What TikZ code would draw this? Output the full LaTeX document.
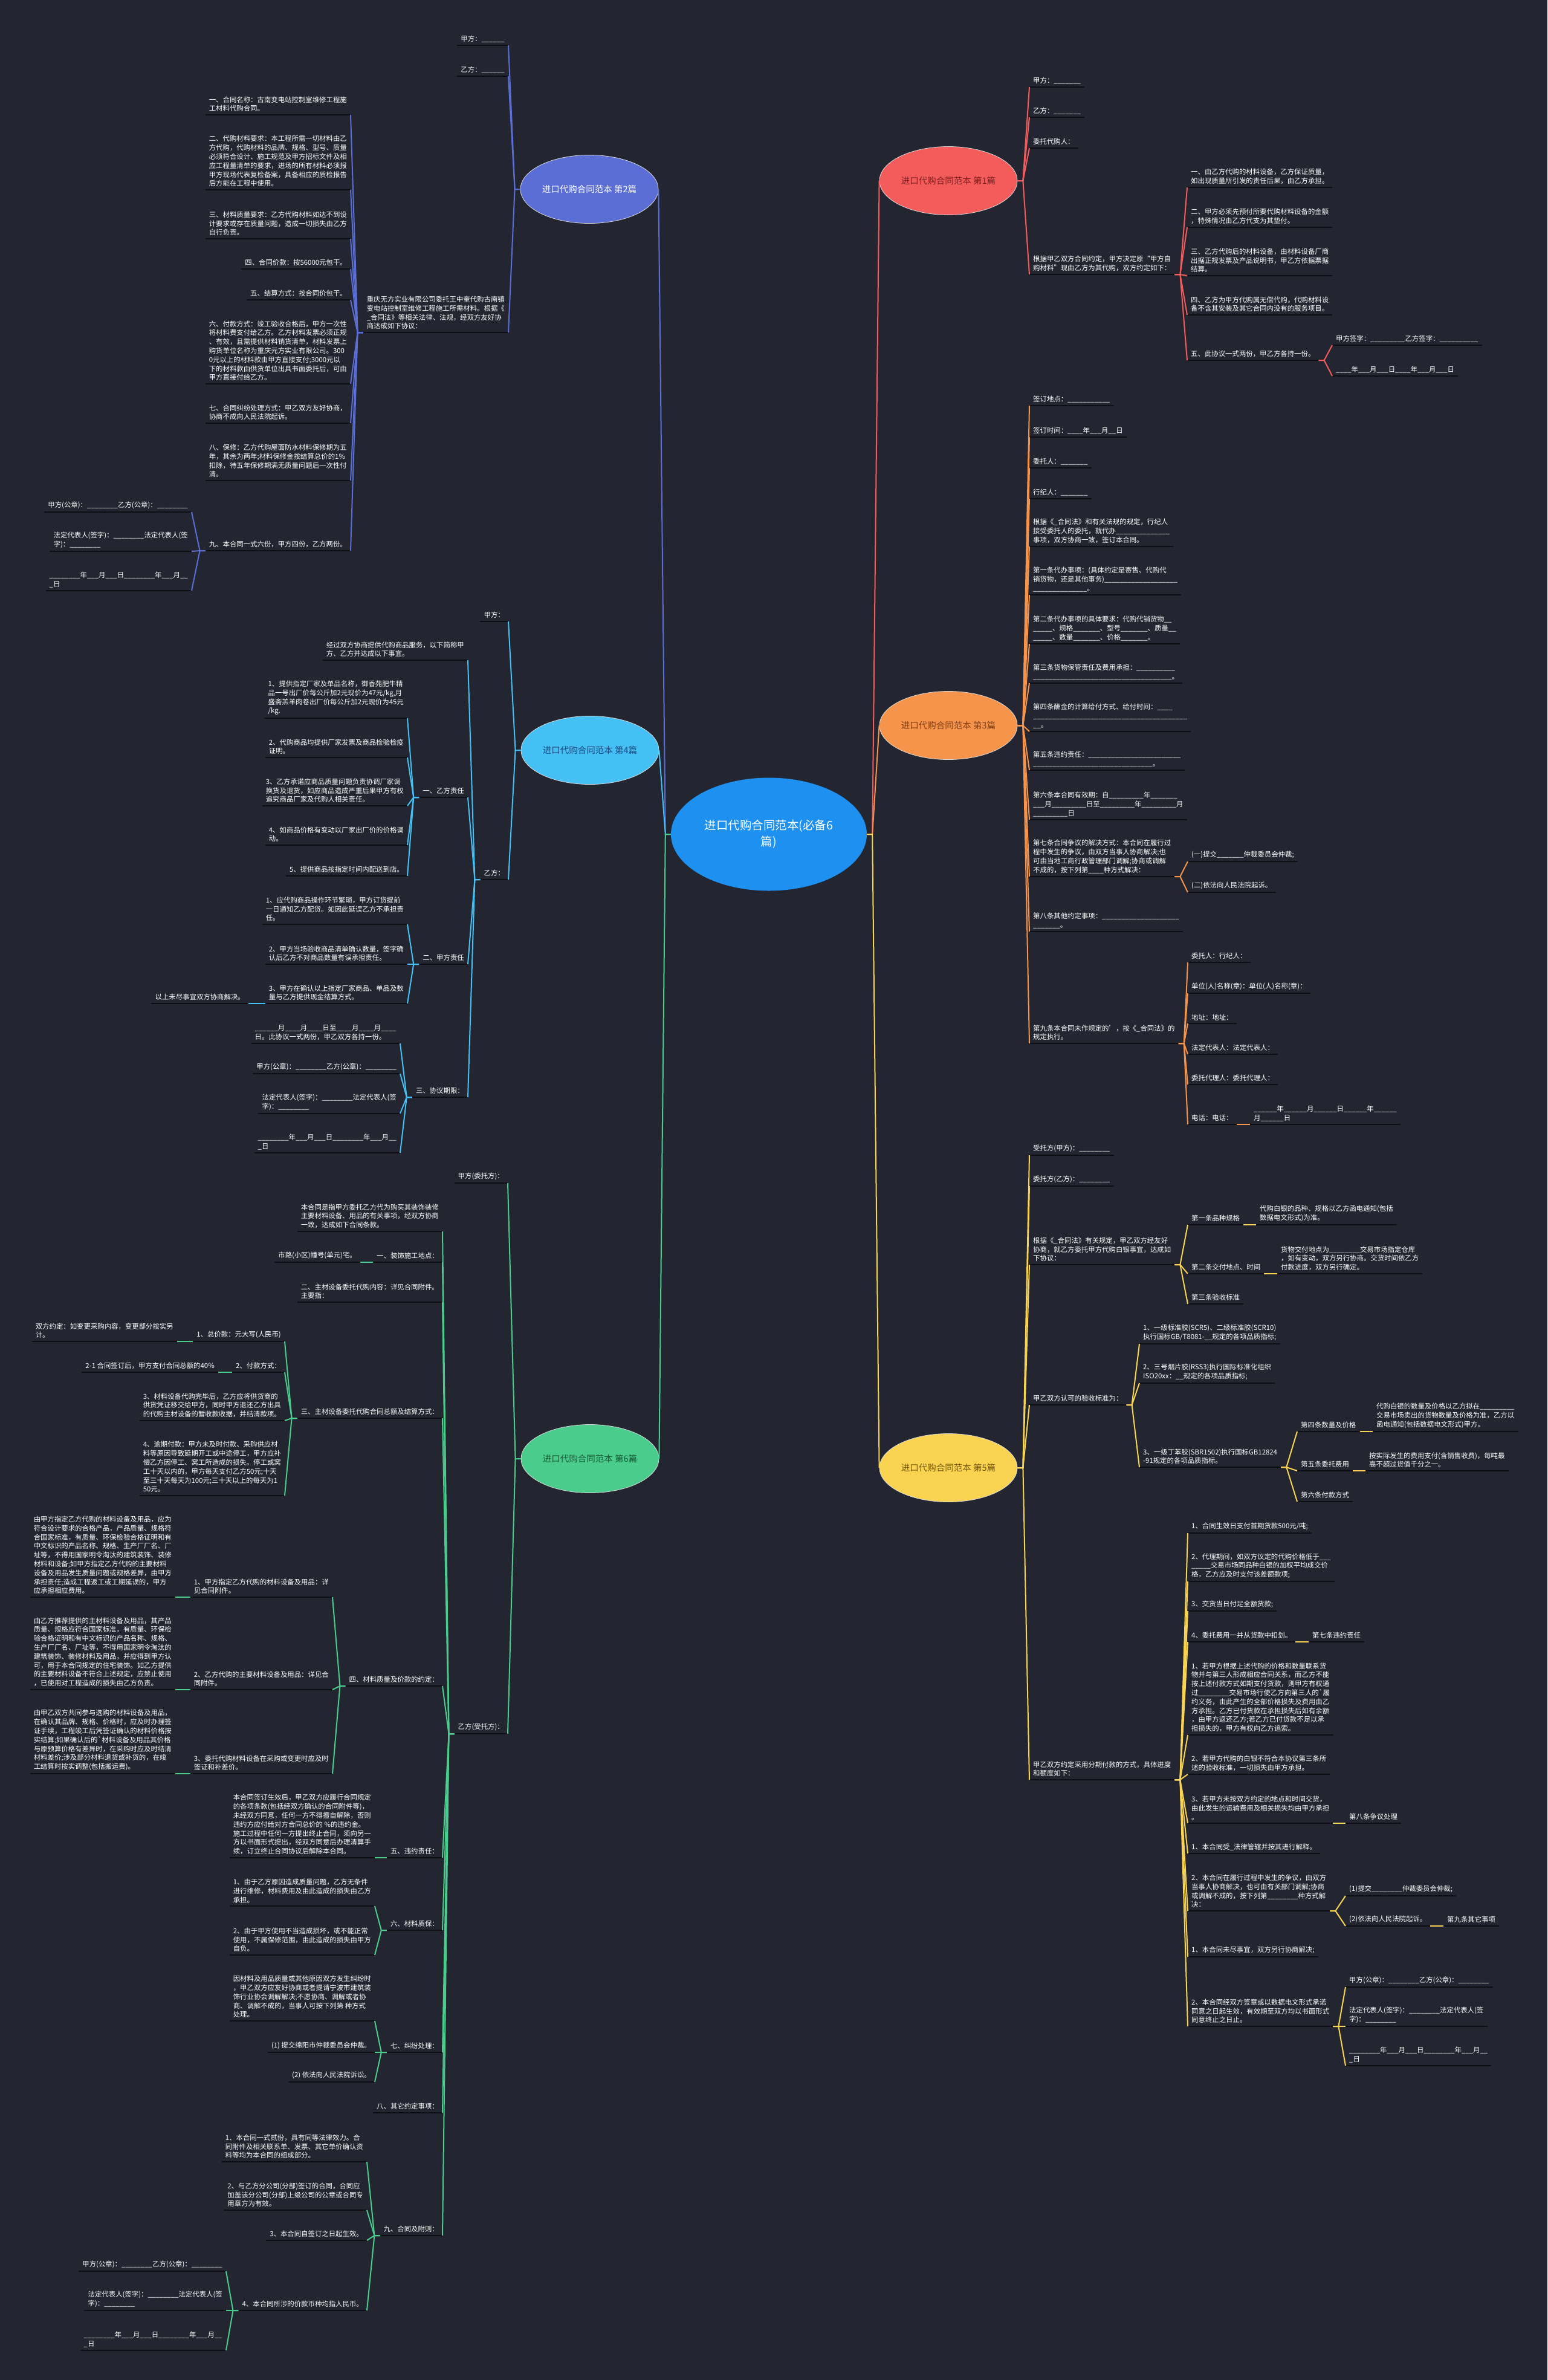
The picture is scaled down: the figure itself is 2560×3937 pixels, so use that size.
\documentclass[tikz,border=0pt]{standalone}
\usepackage{fontspec}
\setmainfont{Noto Sans CJK SC}
\usepackage{tikz}
\usetikzlibrary{shapes.geometric}

\definecolor{bgc}{RGB}{35,38,49}
\definecolor{ulc}{RGB}{13,15,21}
\definecolor{rootc}{RGB}{30,144,240}
\definecolor{cA}{RGB}{244,92,92}
\definecolor{cB}{RGB}{90,110,214}
\definecolor{cC}{RGB}{247,148,76}
\definecolor{cD}{RGB}{68,192,245}
\definecolor{cE}{RGB}{250,212,80}
\definecolor{cF}{RGB}{74,204,140}
\definecolor{tA}{RGB}{125,32,32}
\definecolor{tC}{RGB}{125,62,20}
\definecolor{tD}{RGB}{25,72,125}
\definecolor{tE}{RGB}{115,88,20}
\definecolor{tF}{RGB}{25,92,56}
\newcommand\leaffont{\fontsize{11.4}{14.8}\selectfont}

\begin{document}
\catcode`\_=12
\begin{tikzpicture}[x=1pt,y=-1pt,
  uline/.style={draw=ulc, line width=2.5pt},
  leaf/.style={text=white, font=\leaffont, align=left, inner xsep=6pt, inner ysep=5pt,
    append after command={\pgfextra{\draw[uline] (\tikzlastnode.south west) -- (\tikzlastnode.south east);}}},
  rleaf/.style={leaf, anchor=south west},
  lleaf/.style={leaf, anchor=south east},
  topic/.style={ellipse, draw=white!85!black, line width=0.8pt, minimum width=228pt,
    minimum height=113pt, inner sep=0pt, font=\fontsize{14.5}{18}\selectfont},
  linkr/.style={line width=2pt, to path={-- ++(9,0) -- (\tikztotarget)}},
  linkl/.style={line width=2pt, to path={-- ++(-9,0) -- (\tikztotarget)}},
]

\fill[bgc] (0,0) rectangle (2560,3937);

% centre and the six topics
\node[ellipse, fill=rootc, text=white, minimum width=324pt, minimum height=187pt, align=center,
  font=\fontsize{19.5}{27}\selectfont] (root) at (1272,1380) {进口代购合同范本(必备6\\篇)};
\node[topic, fill=cA, text=tA] (b1) at (1569,299) {进口代购合同范本 第1篇};
\node[topic, fill=cB, text=white] (b2) at (975,313) {进口代购合同范本 第2篇};
\node[topic, fill=cC, text=tC] (b3) at (1569,1200) {进口代购合同范本 第3篇};
\node[topic, fill=cD, text=tD] (b4) at (976,1241) {进口代购合同范本 第4篇};
\node[topic, fill=cE, text=tE] (b5) at (1569,2428) {进口代购合同范本 第5篇};
\node[topic, fill=cF, text=tF] (b6) at (976,2413) {进口代购合同范本 第6篇};

% 第1篇
\node[rleaf] (b1a) at (1703,144) {甲方：_______};
\node[rleaf] (b1b) at (1703,194) {乙方：_______};
\node[rleaf] (b1c) at (1703,245) {委托代购人：};
\node[rleaf] (b1d) at (1703,454) {根据甲乙双方合同约定，甲方决定原“甲方自\\购材料”现由乙方为其代购，双方约定如下：};
\node[rleaf] (b1d1) at (1964,310) {一、由乙方代购的材料设备，乙方保证质量，\\如出现质量所引发的责任后果，由乙方承担。};
\node[rleaf] (b1d2) at (1964,376) {二、甲方必须先预付所要代购材料设备的金额\\，特殊情况由乙方代支为其垫付。};
\node[rleaf] (b1d3) at (1964,456) {三、乙方代购后的材料设备，由材料设备厂商\\出据正规发票及产品说明书，甲乙方依据票据\\结算。};
\node[rleaf] (b1d4) at (1964,521) {四、乙方为甲方代购属无偿代购，代购材料设\\备不含其安装及其它合同内没有的服务项目。};
\node[rleaf] (b1d5) at (1964,596) {五、此协议一式两份，甲乙方各持一份。};
\node[rleaf] (b1d5a) at (2204,571) {甲方签字：_________乙方签字：__________};
\node[rleaf] (b1d5b) at (2204,622) {____年___月___日____年___月___日};

% 第3篇
\node[rleaf] (b3a) at (1703,671) {签订地点：___________};
\node[rleaf] (b3b) at (1703,723) {签订时间：____年___月__日};
\node[rleaf] (b3c) at (1703,774) {委托人：_______};
\node[rleaf] (b3d) at (1703,825) {行纪人：_______};
\node[rleaf] (b3e) at (1703,904) {根据《_合同法》和有关法规的规定，行纪人\\接受委托人的委托，就代办______________\\事项，双方协商一致，签订本合同。};
\node[rleaf] (b3f) at (1703,984) {第一条代办事项：(具体约定是寄售、代购代\\销货物，还是其他事务)___________________\\______________。};
\node[rleaf] (b3g) at (1703,1065) {第二条代办事项的具体要求：代购代销货物__\\_____、规格_______、型号_______、质量__\\_____、数量_______、价格_______。};
\node[rleaf] (b3h) at (1703,1130) {第三条货物保管责任及费用承担：__________\\____________________________________。};
\node[rleaf] (b3i) at (1703,1210) {第四条酬金的计算给付方式、给付时间：____\\________________________________________\\__。};
\node[rleaf] (b3j) at (1703,1274) {第五条违约责任：________________________\\_______________________________。};
\node[rleaf] (b3k) at (1703,1356) {第六条本合同有效期：自_________年_______\\___月_________日至_________年_________月\\_________日};
\node[rleaf] (b3l) at (1703,1450) {第七条合同争议的解决方式：本合同在履行过\\程中发生的争议，由双方当事人协商解决;也\\可由当地工商行政管理部门调解;协商或调解\\不成的，按下列第____种方式解决：};
\node[rleaf] (b3l1) at (1965,1425) {(一)提交_______仲裁委员会仲裁;};
\node[rleaf] (b3l2) at (1965,1476) {(二)依法向人民法院起诉。};
\node[rleaf] (b3m) at (1703,1541) {第八条其他约定事项：____________________\\_______。};
\node[rleaf] (b3n) at (1703,1726) {第九条本合同未作规定的'，按《_合同法》的\\规定执行。};
\node[rleaf] (b3n1) at (1965,1592) {委托人：行纪人：};
\node[rleaf] (b3n2) at (1965,1643) {单位(人)名称(章)：单位(人)名称(章)：};
\node[rleaf] (b3n3) at (1965,1693) {地址：地址：};
\node[rleaf] (b3n4) at (1965,1744) {法定代表人：法定代表人：};
\node[rleaf] (b3n5) at (1965,1794) {委托代理人：委托代理人：};
\node[rleaf] (b3n6) at (1965,1860) {电话：电话：};
\node[rleaf] (b3n6a) at (2068,1860) {______年______月______日______年______\\月______日};

% 第5篇
\node[rleaf] (b5a) at (1703,1911) {受托方(甲方)：________};
\node[rleaf] (b5b) at (1703,1962) {委托方(乙方)：________};
\node[rleaf] (b5c) at (1703,2092) {根据《_合同法》有关规定，甲乙双方经友好\\协商，就乙方委托甲方代购白银事宜，达成如\\下协议：};
\node[rleaf] (b5c1) at (1965,2026) {第一条品种规格};
\node[rleaf] (b5c1a) at (2078,2026) {代购白银的品种、规格以乙方函电通知(包括\\数据电文形式)为准。};
\node[rleaf] (b5c2) at (1965,2107) {第二条交付地点、时间};
\node[rleaf] (b5c2a) at (2113,2107) {货物交付地点为________交易市场指定仓库\\，如有变动，双方另行协商。交货时间依乙方\\付款进度，双方另行确定。};
\node[rleaf] (b5c3) at (1965,2157) {第三条验收标准};
\node[rleaf] (b5d) at (1703,2324) {甲乙双方认可的验收标准为：};
\node[rleaf] (b5d1) at (1885,2223) {1、一级标准胶(SCR5)、二级标准胶(SCR10)\\执行国标GB/T8081-__规定的各项品质指标;};
\node[rleaf] (b5d2) at (1885,2288) {2、三号烟片胶(RSS3)执行国际标准化组织\\ISO20xx：__规定的各项品质指标;};
\node[rleaf] (b5d3) at (1885,2427) {3、一级丁苯胶(SBR1502)执行国标GB12824\\-91规定的各项品质指标。};
\node[rleaf] (b5d3a) at (2146,2368) {第四条数量及价格};
\node[rleaf] (b5d3a1) at (2271,2368) {代购白银的数量及价格以乙方拟在_________\\交易市场卖出的货物数量及价格为准，乙方以\\函电通知(包括数据电文形式)甲方。};
\node[rleaf] (b5d3b) at (2146,2433) {第五条委托费用};
\node[rleaf] (b5d3b1) at (2259,2433) {按实际发生的费用支付(含销售收费)，每吨最\\高不超过货值千分之一。};
\node[rleaf] (b5d3c) at (2146,2484) {第六条付款方式};
\node[rleaf] (b5e) at (1703,2944) {甲乙双方约定采用分期付款的方式，具体进度\\和额度如下：};
\node[rleaf] (b5e1) at (1965,2536) {1、合同生效日支付首期货款500元/吨;};
\node[rleaf] (b5e2) at (1965,2616) {2、代理期间，如双方议定的代购价格低于___\\_____交易市场同品种白银的加权平均成交价\\格，乙方应及时支付该差额款项;};
\node[rleaf] (b5e3) at (1965,2665) {3、交货当日付足全额货款;};
\node[rleaf] (b5e4) at (1965,2716) {4、委托费用一并从货款中扣划。};
\node[rleaf] (b5e4a) at (2165,2716) {第七条违约责任};
\node[rleaf] (b5e5) at (1965,2870) {1、若甲方根据上述代购的价格和数量联系货\\物并与第三人形成相应合同关系，而乙方不能\\按上述付款方式如期支付货款，则甲方有权通\\过________交易市场行使乙方向第三人的\textasciigrave 履\\约义务，由此产生的全部价格损失及费用由乙\\方承担。乙方已付货款在承担损失后如有余额\\，由甲方返还乙方;若乙方已付货款不足以承\\担损失的，甲方有权向乙方追索。};
\node[rleaf] (b5e6) at (1965,2935) {2、若甲方代购的白银不符合本协议第三条所\\述的验收标准，一切损失由甲方承担。};
\node[rleaf] (b5e7) at (1965,3016) {3、若甲方未按双方约定的地点和时间交货，\\由此发生的运输费用及相关损失均由甲方承担\\。};
\node[rleaf] (b5e7a) at (2226,3016) {第八条争议处理};
\node[rleaf] (b5e8) at (1965,3066) {1、本合同受_法律管辖并按其进行解释。};
\node[rleaf] (b5e9) at (1965,3161) {2、本合同在履行过程中发生的争议，由双方\\当事人协商解决，也可由有关部门调解;协商\\或调解不成的，按下列第________种方式解\\决：};
\node[rleaf] (b5e9a) at (2226,3136) {(1)提交________仲裁委员会仲裁;};
\node[rleaf] (b5e9b) at (2226,3186) {(2)依法向人民法院起诉。};
\node[rleaf] (b5e9b1) at (2388,3186) {第九条其它事项};
\node[rleaf] (b5e10) at (1965,3237) {1、本合同未尽事宜，双方另行协商解决;};
\node[rleaf] (b5e11) at (1965,3352) {2、本合同经双方签章或以数据电文形式承诺\\同意之日起生效，有效期至双方均以书面形式\\同意终止之日止。};
\node[rleaf] (b5e11a) at (2226,3287) {甲方(公章)：________乙方(公章)：________};
\node[rleaf] (b5e11b) at (2226,3352) {法定代表人(签字)：________法定代表人(签\\字)：________};
\node[rleaf] (b5e11c) at (2226,3417) {________年___月___日________年___月__\\_日};

% 第2篇
\node[lleaf] (b2a) at (841,75) {甲方：______};
\node[lleaf] (b2b) at (841,126) {乙方：______};
\node[lleaf] (b2c) at (841,550) {重庆无方实业有限公司委托王中奎代购古南镇\\变电站控制室维修工程施工所需材料。根据《\\_合同法》等相关法律、法规，经双方友好协\\商达成如下协议：};
\node[lleaf] (b2c1) at (580,190) {一、合同名称：古南变电站控制室维修工程施\\工材料代购合同。};
\node[lleaf] (b2c2) at (580,314) {二、代购材料要求：本工程所需一切材料由乙\\方代购，代购材料的品牌、规格、型号、质量\\必须符合设计、施工规范及甲方招标文件及相\\应工程量清单的要求，进场的所有材料必须报\\甲方现场代表复检备案，具备相应的质检报告\\后方能在工程中使用。};
\node[lleaf] (b2c3) at (580,395) {三、材料质量要求：乙方代购材料如达不到设\\计要求或存在质量问题，造成一切损失由乙方\\自行负责。};
\node[lleaf] (b2c4) at (580,445) {四、合同价款：按56000元包干。};
\node[lleaf] (b2c5) at (580,496) {五、结算方式：按合同价包干。};
\node[lleaf] (b2c6) at (580,635) {六、付款方式：竣工验收合格后，甲方一次性\\将材料费支付给乙方。乙方材料发票必须正规\\、有效，且需提供材料销货清单，材料发票上\\购货单位名称为重庆元方实业有限公司。300\\0元以上的材料款由甲方直接支付;3000元以\\下的材料款由供货单位出具书面委托后，可由\\甲方直接付给乙方。};
\node[lleaf] (b2c7) at (580,700) {七、合同纠纷处理方式：甲乙双方友好协商，\\协商不成向人民法院起诉。};
\node[lleaf] (b2c8) at (580,795) {八、保修：乙方代购屋面防水材料保修期为五\\年，其余为两年;材料保修金按结算总价的1\%\\扣除，待五年保修期满无质量问题后一次性付\\清。};
\node[lleaf] (b2c9) at (580,911) {九、本合同一式六份，甲方四份，乙方两份。};
\node[lleaf] (b2c9a) at (317,847) {甲方(公章)：________乙方(公章)：________};
\node[lleaf] (b2c9b) at (317,912) {法定代表人(签字)：________法定代表人(签\\字)：________};
\node[lleaf] (b2c9c) at (317,977) {________年___月___日________年___月__\\_日};

% 第4篇
\node[lleaf] (b4a) at (841,1028) {甲方：};
\node[lleaf] (b4b) at (841,1455) {乙方：};
\node[lleaf] (b4b1) at (774,1092) {经过双方协商提供代购商品服务，以下简称甲\\方、乙方并达成以下事宜。};
\node[lleaf] (b4b2) at (774,1319) {一、乙方责任};
\node[lleaf] (b4b2a) at (674,1188) {1、提供指定厂家及单品名称，御香苑肥牛精\\品一号出厂价每公斤加2元现价为47元/kg,月\\盛斋羔羊肉卷出厂价每公斤加2元现价为45元\\/kg.};
\node[lleaf] (b4b2b) at (674,1253) {2、代购商品均提供厂家发票及商品检验检疫\\证明。};
\node[lleaf] (b4b2c) at (674,1333) {3、乙方承诺应商品质量问题负责协调厂家调\\换货及退货，如应商品造成严重后果甲方有权\\追究商品厂家及代购人相关责任。};
\node[lleaf] (b4b2d) at (674,1398) {4、如商品价格有变动以厂家出厂价的价格调\\动。};
\node[lleaf] (b4b2e) at (674,1449) {5、提供商品按指定时间内配送到店。};
\node[lleaf] (b4b3) at (774,1595) {二、甲方责任};
\node[lleaf] (b4b3a) at (674,1529) {1、应代购商品操作环节繁琐，甲方订货提前\\一日通知乙方配货。如因此延误乙方不承担责\\任。};
\node[lleaf] (b4b3b) at (674,1595) {2、甲方当场验收商品清单确认数量，签字确\\认后乙方不对商品数量有误承担责任。};
\node[lleaf] (b4b3c) at (674,1660) {3、甲方在确认以上指定厂家商品、单品及数\\量与乙方提供现金结算方式。};
\node[lleaf] (b4b3c1) at (411,1660) {以上未尽事宜双方协商解决。};
\node[lleaf] (b4b4) at (774,1815) {三、协议期限：};
\node[lleaf] (b4b4a) at (662,1726) {______月____月____日至____月____月____\\日。此协议一式两份，甲乙双方各持一份。};
\node[lleaf] (b4b4b) at (662,1776) {甲方(公章)：________乙方(公章)：________};
\node[lleaf] (b4b4c) at (662,1842) {法定代表人(签字)：________法定代表人(签\\字)：________};
\node[lleaf] (b4b4d) at (662,1907) {________年___月___日________年___月__\\_日};

% 第6篇
\node[lleaf] (b6a) at (840,1957) {甲方(委托方)：};
\node[lleaf] (b6b) at (840,2868) {乙方(受托方)：};
\node[lleaf] (b6b1) at (732,2037) {本合同是指甲方委托乙方代为购买其装饰装修\\主要材料设备、用品的有关事项，经双方协商\\一致，达成如下合同条款。};
\node[lleaf] (b6b2) at (732,2088) {一、装饰施工地点：};
\node[lleaf] (b6b2a) at (596,2088) {市路(小区)幢号(单元)宅。};
\node[lleaf] (b6b3) at (732,2154) {二、主材设备委托代购内容：详见合同附件。\\主要指：};
\node[lleaf] (b6b4) at (732,2346) {三、主材设备委托代购合同总额及结算方式：};
\node[lleaf] (b6b4a) at (471,2219) {1、总价款：元大写(人民币)};
\node[lleaf] (b6b4a1) at (293,2219) {双方约定：如变更采购内容，变更部分按实另\\计。};
\node[lleaf] (b6b4b) at (471,2270) {2、付款方式：};
\node[lleaf] (b6b4b1) at (361,2270) {2-1 合同签订后，甲方支付合同总额的40\%};
\node[lleaf] (b6b4c) at (471,2350) {3、材料设备代购完毕后，乙方应将供货商的\\供货凭证移交给甲方，同时甲方退还乙方出具\\的代购主材设备的暂收款收据，并结清款项。};
\node[lleaf] (b6b4d) at (471,2474) {4、逾期付款：甲方未及时付款、采购供应材\\料等原因导致延期开工或中途停工，甲方应补\\偿乙方因停工、窝工所造成的损失。停工或窝\\工十天以内的，甲方每天支付乙方50元;十天\\至三十天每天为100元;三十天以上的每天为1\\50元。};
\node[lleaf] (b6b5) at (732,2789) {四、材料质量及价款的约定：};
\node[lleaf] (b6b5a) at (550,2642) {1、甲方指定乙方代购的材料设备及用品：详\\见合同附件。};
\node[lleaf] (b6b5a1) at (290,2642) {由甲方指定乙方代购的材料设备及用品，应为\\符合设计要求的合格产品，产品质量、规格符\\合国家标准，有质量、环保检验合格证明和有\\中文标识的产品名称、规格、生产厂厂名、厂\\址等，不得用国家明令淘汰的建筑装饰、装修\\材料和设备;如甲方指定乙方代购的主要材料\\设备及用品发生质量问题或规格差异，由甲方\\承担责任;造成工程返工或工期延误的，甲方\\应承担相应费用。};
\node[lleaf] (b6b5b) at (550,2795) {2、乙方代购的主要材料设备及用品：详见合\\同附件。};
\node[lleaf] (b6b5b1) at (290,2795) {由乙方推荐提供的主材料设备及用品，其产品\\质量、规格应符合国家标准，有质量、环保检\\验合格证明和有中文标识的产品名称、规格、\\生产厂厂名、厂址等，不得用国家明令淘汰的\\建筑装饰、装修材料及用品，并应得到甲方认\\可，用于本合同规定的住宅装饰。如乙方提供\\的主要材料设备不符合上述规定，应禁止使用\\，已使用对工程造成的损失由乙方负责。};
\node[lleaf] (b6b5c) at (550,2934) {3、委托代购材料设备在采购或变更时应及时\\签证和补差价。};
\node[lleaf] (b6b5c1) at (290,2934) {由甲乙双方共同参与选购的材料设备及用品，\\在确认其品牌、规格、价格时，应及时办理签\\证手续，工程竣工后凭签证确认的材料价格按\\实结算;如果确认后的\textasciigrave 材料设备及用品其价格\\与原预算价格有差异时，在采购时应及时结清\\材料差价;涉及部分材料退货或补货的，在竣\\工结算时按实调整(包括搬运费)。};
\node[lleaf] (b6b6) at (732,3073) {五、违约责任：};
\node[lleaf] (b6b6a) at (620,3073) {本合同签订生效后，甲乙双方应履行合同规定\\的各项条款(包括经双方确认的合同附件等)，\\未经双方同意，任何一方不得擅自解除，否则\\违约方应付给对方合同总价的 \%的违约金。\\施工过程中任何一方提出终止合同，须向另一\\方以书面形式提出，经双方同意后办理清算手\\续，订立终止合同协议后解除本合同。};
\node[lleaf] (b6b7) at (732,3193) {六、材料质保：};
\node[lleaf] (b6b7a) at (620,3153) {1、由于乙方原因造成质量问题，乙方无条件\\进行维修，材料费用及由此造成的损失由乙方\\承担。};
\node[lleaf] (b6b7b) at (620,3234) {2、由于甲方使用不当造成损坏，或不能正常\\使用，不属保修范围，由此造成的损失由甲方\\自负。};
\node[lleaf] (b6b8) at (732,3395) {七、纠纷处理：};
\node[lleaf] (b6b8a) at (620,3343) {因材料及用品质量或其他原因双方发生纠纷时\\，甲乙双方应友好协商或者提请宁波市建筑装\\饰行业协会调解解决;不愿协商、调解或者协\\商、调解不成的，当事人可按下列第 种方式\\处理。};
\node[lleaf] (b6b8b) at (620,3395) {(1) 提交绵阳市仲裁委员会仲裁。};
\node[lleaf] (b6b8c) at (620,3444) {(2) 依法向人民法院诉讼。};
\node[lleaf] (b6b9) at (732,3495) {八、其它约定事项：};
\node[lleaf] (b6b10) at (732,3698) {九、合同及附则：};
\node[lleaf] (b6b10a) at (607,3576) {1、本合同一式贰份，具有同等法律效力。合\\同附件及相关联系单、发票、其它单价确认资\\料等均为本合同的组成部分。};
\node[lleaf] (b6b10b) at (607,3656) {2、与乙方分公司(分部)签订的合同，合同应\\加盖该分公司(分部)上级公司的公章或合同专\\用章方为有效。};
\node[lleaf] (b6b10c) at (607,3706) {3、本合同自签订之日起生效。};
\node[lleaf] (b6b10d) at (607,3822) {4、本合同所涉的价款币种均指人民币。};
\node[lleaf] (b6b10d1) at (374,3757) {甲方(公章)：________乙方(公章)：________};
\node[lleaf] (b6b10d2) at (374,3822) {法定代表人(签字)：________法定代表人(签\\字)：________};
\node[lleaf] (b6b10d3) at (374,3888) {________年___月___日________年___月__\\_日};

% connectors, right side
\foreach \t/\c in {b1/cA, b3/cC, b5/cE} \draw[\c,linkr] (root.east) to (\t.west);
\foreach \c in {b1a,b1b,b1c,b1d} \draw[cA,linkr] (b1.east) to (\c.south west);
\foreach \c in {b1d1,b1d2,b1d3,b1d4,b1d5} \draw[cA,linkr] (b1d.south east) to (\c.south west);
\foreach \c in {b1d5a,b1d5b} \draw[cA,linkr] (b1d5.south east) to (\c.south west);

\foreach \c in {b3a,b3b,b3c,b3d,b3e,b3f,b3g,b3h,b3i,b3j,b3k,b3l,b3m,b3n} \draw[cC,linkr] (b3.east) to (\c.south west);
\foreach \c in {b3l1,b3l2} \draw[cC,linkr] (b3l.south east) to (\c.south west);
\foreach \c in {b3n1,b3n2,b3n3,b3n4,b3n5,b3n6} \draw[cC,linkr] (b3n.south east) to (\c.south west);
\draw[cC,linkr] (b3n6.south east) to (b3n6a.south west);

\foreach \c in {b5a,b5b,b5c,b5d,b5e} \draw[cE,linkr] (b5.east) to (\c.south west);
\foreach \c in {b5c1,b5c2,b5c3} \draw[cE,linkr] (b5c.south east) to (\c.south west);
\draw[cE,linkr] (b5c1.south east) to (b5c1a.south west);
\draw[cE,linkr] (b5c2.south east) to (b5c2a.south west);
\foreach \c in {b5d1,b5d2,b5d3} \draw[cE,linkr] (b5d.south east) to (\c.south west);
\foreach \c in {b5d3a,b5d3b,b5d3c} \draw[cE,linkr] (b5d3.south east) to (\c.south west);
\draw[cE,linkr] (b5d3a.south east) to (b5d3a1.south west);
\draw[cE,linkr] (b5d3b.south east) to (b5d3b1.south west);
\foreach \c in {b5e1,b5e2,b5e3,b5e4,b5e5,b5e6,b5e7,b5e8,b5e9,b5e10,b5e11} \draw[cE,linkr] (b5e.south east) to (\c.south west);
\draw[cE,linkr] (b5e4.south east) to (b5e4a.south west);
\draw[cE,linkr] (b5e7.south east) to (b5e7a.south west);
\foreach \c in {b5e9a,b5e9b} \draw[cE,linkr] (b5e9.south east) to (\c.south west);
\draw[cE,linkr] (b5e9b.south east) to (b5e9b1.south west);
\foreach \c in {b5e11a,b5e11b,b5e11c} \draw[cE,linkr] (b5e11.south east) to (\c.south west);

% connectors, left side
\foreach \t/\c in {b2/cB, b4/cD, b6/cF} \draw[\c,linkl] (root.west) to (\t.east);
\foreach \c in {b2a,b2b,b2c} \draw[cB,linkl] (b2.west) to (\c.south east);
\foreach \c in {b2c1,b2c2,b2c3,b2c4,b2c5,b2c6,b2c7,b2c8,b2c9} \draw[cB,linkl] (b2c.south west) to (\c.south east);
\foreach \c in {b2c9a,b2c9b,b2c9c} \draw[cB,linkl] (b2c9.south west) to (\c.south east);

\foreach \c in {b4a,b4b} \draw[cD,linkl] (b4.west) to (\c.south east);
\foreach \c in {b4b1,b4b2,b4b3,b4b4} \draw[cD,linkl] (b4b.south west) to (\c.south east);
\foreach \c in {b4b2a,b4b2b,b4b2c,b4b2d,b4b2e} \draw[cD,linkl] (b4b2.south west) to (\c.south east);
\foreach \c in {b4b3a,b4b3b,b4b3c} \draw[cD,linkl] (b4b3.south west) to (\c.south east);
\draw[cD,linkl] (b4b3c.south west) to (b4b3c1.south east);
\foreach \c in {b4b4a,b4b4b,b4b4c,b4b4d} \draw[cD,linkl] (b4b4.south west) to (\c.south east);

\foreach \c in {b6a,b6b} \draw[cF,linkl] (b6.west) to (\c.south east);
\foreach \c in {b6b1,b6b2,b6b3,b6b4,b6b5,b6b6,b6b7,b6b8,b6b9,b6b10} \draw[cF,linkl] (b6b.south west) to (\c.south east);
\draw[cF,linkl] (b6b2.south west) to (b6b2a.south east);
\foreach \c in {b6b4a,b6b4b,b6b4c,b6b4d} \draw[cF,linkl] (b6b4.south west) to (\c.south east);
\draw[cF,linkl] (b6b4a.south west) to (b6b4a1.south east);
\draw[cF,linkl] (b6b4b.south west) to (b6b4b1.south east);
\foreach \c in {b6b5a,b6b5b,b6b5c} \draw[cF,linkl] (b6b5.south west) to (\c.south east);
\draw[cF,linkl] (b6b5a.south west) to (b6b5a1.south east);
\draw[cF,linkl] (b6b5b.south west) to (b6b5b1.south east);
\draw[cF,linkl] (b6b5c.south west) to (b6b5c1.south east);
\draw[cF,linkl] (b6b6.south west) to (b6b6a.south east);
\foreach \c in {b6b7a,b6b7b} \draw[cF,linkl] (b6b7.south west) to (\c.south east);
\foreach \c in {b6b8a,b6b8b,b6b8c} \draw[cF,linkl] (b6b8.south west) to (\c.south east);
\foreach \c in {b6b10a,b6b10b,b6b10c,b6b10d} \draw[cF,linkl] (b6b10.south west) to (\c.south east);
\foreach \c in {b6b10d1,b6b10d2,b6b10d3} \draw[cF,linkl] (b6b10d.south west) to (\c.south east);

\end{tikzpicture}
\end{document}
